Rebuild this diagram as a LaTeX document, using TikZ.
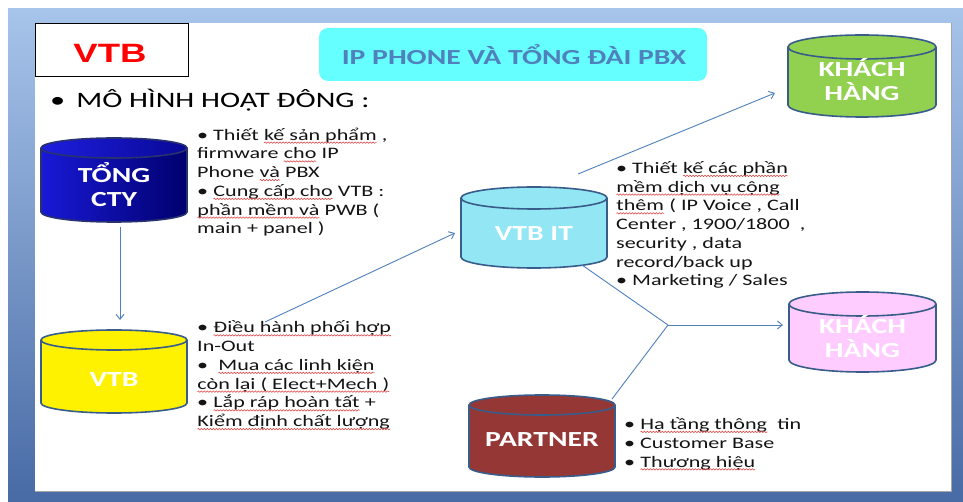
\documentclass[tikz,border=0pt]{standalone}
\usepackage{fontspec}
\setmainfont[FakeStretch=1.38]{Carlito}
\newfontfamily\vtbfont[FakeStretch=1.38]{Liberation Sans}
\usetikzlibrary{arrows.meta,decorations.pathmorphing}
\definecolor{frametop}{RGB}{167,196,234}
\definecolor{framebot}{RGB}{72,106,165}
\definecolor{titlefill}{RGB}{102,255,255}
\definecolor{titleblue}{RGB}{79,129,189}
\definecolor{connblue}{RGB}{79,129,189}
\definecolor{cylline}{RGB}{56,93,138}
\definecolor{blueline}{RGB}{40,50,110}
\definecolor{wavered}{RGB}{225,60,60}
\definecolor{itfill}{RGB}{147,230,243}
\definecolor{greenfill}{RGB}{146,208,80}
\definecolor{pinkfill}{RGB}{255,204,255}
\definecolor{partnerfill}{RGB}{149,55,53}
\definecolor{textdark}{RGB}{20,20,20}
\lineskiplimit=-100pt
\newcommand\sq[1]{\tikz[baseline=(sqw.base)]{\node[inner sep=0pt,outer sep=0pt,anchor=base] (sqw) {#1};
  \draw[wavered,line width=0.55pt,decorate,decoration={snake,amplitude=0.7pt,segment length=3pt}] ([yshift=-2.4pt]sqw.base west) -- ([yshift=-2.4pt]sqw.base east);}}
% cylinder: x1 y1 x2 y2 r bodyopts topopts linecolor
\newcommand\cylshape[8]{%
  \pgfmathsetmacro\cylcx{(#1+#3)/2}%
  \pgfmathsetmacro\cylca{(#3-#1)/2}%
  \pgfmathsetmacro\cylyt{#2+#5}%
  \pgfmathsetmacro\cylyb{#4-#5}%
  \path[#6,draw=#8,line width=1.6pt] (\cylcx,\cylyb) ellipse ({\cylca} and #5);
  \path[#6] (#1,\cylyt) rectangle (#3,\cylyb);
  \draw[#8,line width=1.6pt] (#1,\cylyt) -- (#1,\cylyb) (#3,\cylyt) -- (#3,\cylyb);
  \path[#7,draw=#8,line width=1.6pt] (\cylcx,\cylyt) ellipse ({\cylca} and #5);
}
\begin{document}
\begin{tikzpicture}[x=1pt,y=-1pt,
  cylnode/.style={inner sep=0pt,outer sep=0pt},
  cyltext/.style={text=white,font=\fontsize{21.5}{24}\selectfont\bfseries,align=center,inner sep=0pt},
  bodytext/.style={text=textdark,font=\fontsize{16}{18.75}\selectfont,align=left,anchor=base west,inner sep=0pt},
  conn/.style={draw=connblue,line width=0.9pt},
  arr/.style={-{Straight Barb[length=5pt,width=8pt]}}]
\useasboundingbox (0,0) rectangle (963,502);
\fill[white] (0,0) rectangle (963,502);
\shade[top color=frametop,bottom color=framebot] (8,9) rectangle (963,502);
\fill[white] (35,23) rectangle (951,491);
\draw[black!35,line width=0.8pt] (35,491.4) -- (951.4,491.4) -- (951.4,23);

% header
\node[draw=black,line width=0.8pt,fill=white,minimum width=153pt,minimum height=53pt,inner sep=0pt] (vtbbox) at (111.5,49.5) {};
\node[text=red,font=\vtbfont\bfseries\fontsize{26.5}{26.5}\selectfont,inner sep=0pt] (vtbboxt) at (110,53) {VTB};
\node[fill=titlefill,rounded corners=9pt,minimum width=388pt,minimum height=53pt,inner sep=0pt] (title) at (513,54.5) {};
\node[text=titleblue,font=\fontsize{21.5}{21.5}\selectfont\bfseries,inner sep=0pt] (titlet) at (514,55) {IP PHONE VÀ TỔNG ĐÀI PBX};
\node[text=black,font=\fontsize{22}{22}\selectfont,anchor=base west,inner sep=0pt] (model) at (50,108) {•\hskip 11pt MÔ HÌNH HOẠT ĐÔNG :};

% cylinders
\cylshape{41}{138}{187}{222}{10}{left color={rgb,255:red,25;green,25;blue,215},right color={rgb,255:red,0;green,0;blue,110}}{left color={rgb,255:red,30;green,30;blue,222},right color={rgb,255:red,8;green,8;blue,150}}{blueline}
\cylshape{41}{330}{187}{413}{10}{fill=yellow}{fill=yellow}{cylline}
\cylshape{461}{187}{607}{268}{11}{fill=itfill}{fill=itfill}{cylline}
\cylshape{788}{35}{936}{117}{12}{fill=greenfill}{fill=greenfill}{cylline}
\cylshape{789}{292}{936}{372}{12}{fill=pinkfill}{fill=pinkfill}{cylline}
\cylshape{469}{395}{615}{477}{10}{fill=partnerfill}{fill=partnerfill}{cylline}

\node[cylnode,minimum width=146pt,minimum height=84pt] (tong) at (114,180) {};
\node[cylnode,minimum width=146pt,minimum height=83pt] (vtbY) at (114,371.5) {};
\node[cylnode,minimum width=146pt,minimum height=81pt] (vtbit) at (534,227.5) {};
\node[cylnode,minimum width=148pt,minimum height=82pt] (kh1) at (862,76) {};
\node[cylnode,minimum width=147pt,minimum height=80pt] (kh2) at (862.5,332) {};
\node[cylnode,minimum width=146pt,minimum height=82pt] (partner) at (542,436) {};

\node[cyltext] (tongt) at (114,185) {TỔNG\\CTY};
\node[cyltext] (vtbYt) at (114,380) {VTB};
\node[cyltext] (vtbitt) at (534,234) {VTB IT};
\node[cyltext] (kh1t) at (862,79.5) {KHÁCH\\HÀNG};
\node[cyltext] (kh2t) at (862.5,336.5) {KHÁCH\\HÀNG};
\node[cyltext] (partnert) at (542,440) {PARTNER};

% connectors
\coordinate (J) at (668,325);
\draw[conn,arr,shorten <=5pt,shorten >=10pt] ([xshift=6pt]tong.south) -- ([xshift=6pt]vtbY.north);
\draw[conn,arr] ([shift={(78,-8)}]vtbY.north east) -- ([shift={(-6,5.5)}]vtbit.west);
\draw[conn,arr] ([shift={(-29,-13)}]vtbit.north east) -- ([shift={(-13,17)}]kh1.west);
\draw[conn] ([shift={(-25,-3)}]vtbit.south east) -- (J);
\draw[conn] ([shift={(-3,4)}]partner.north east) -- (J);
\draw[conn,arr] (J) -- ([shift={(-6,-7)}]kh2.west);

% text blocks (anchored at the baseline of their last line)
\node[bodytext] (b1) at (197,234) {• Thiết \sq{kế sản phẩm} ,\\
firmware \sq{cho} IP\\
Phone \sq{và} PBX\\
• \sq{Cung cấp cho} VTB :\\
\sq{phần mềm và} PWB (\\
main + panel )};
\node[bodytext] (b2) at (616,286) {• Thiết \sq{kế các phần}\\
\sq{mềm dịch vụ cộng}\\
\sq{thêm} ( IP Voice , Call\\
Center , 1900/1800~ ,\\
security , data\\
record/back up\\
• Marketing / Sales};
\node[bodytext] (b3) at (197,426.7) {• \sq{Điều hành phối hợp}\\
In-Out\\
•~ \sq{Mua các linh kiện}\\
\sq{còn lại ( Elect+Mech )}\\
• \sq{Lắp ráp hoàn tất} +\\
\sq{Kiểm định chất lượng}};
\node[bodytext] (b4) at (624,467) {• \sq{Hạ tầng thông}~ tin\\
• Customer Base\\
• \sq{Thương hiệu}};
\end{tikzpicture}
\end{document}
